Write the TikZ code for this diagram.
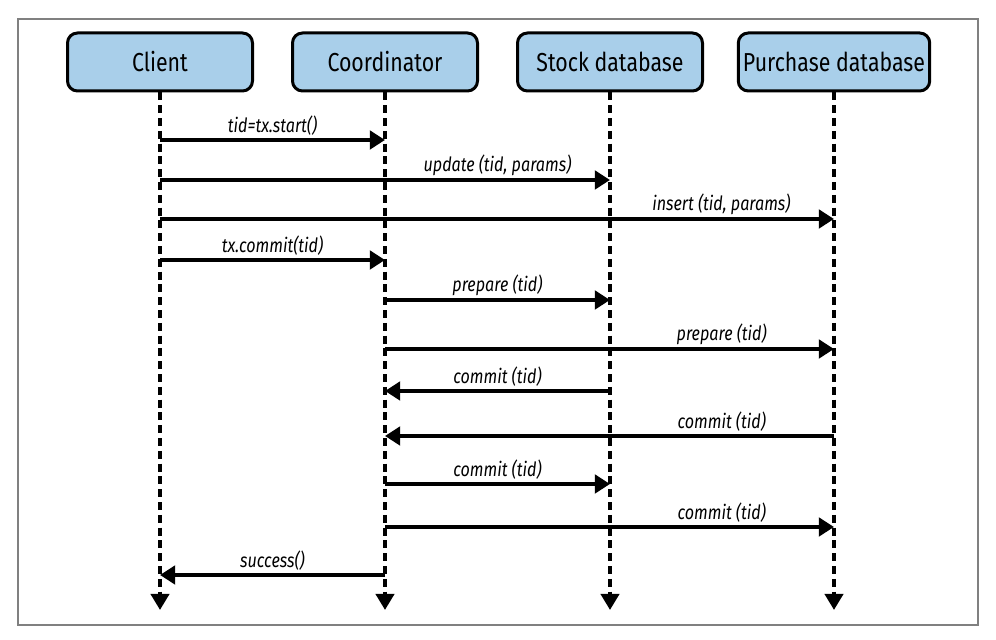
\documentclass[tikz,border=0pt]{standalone}
\usepackage{fontspec}
\setmainfont{Fira Sans}[FakeStretch=0.82]
\usetikzlibrary{arrows.meta}
\definecolor{partyblue}{HTML}{A9CFEA}

\begin{document}
\begin{tikzpicture}[
        party/.style={draw, line width=.075cm, rounded corners=.25cm, fill=partyblue,
            minimum width=4.625cm, minimum height=1.45cm, font=\fontsize{18.5}{20}\selectfont},
        lifeline/.style={line width=.095cm, dash pattern=on .2cm off .12cm,
            -{Triangle[length=.4cm, width=.45cm]}},
        msg/.style={line width=.1cm, -{Triangle[length=.38cm, width=.46cm]}},
        msglabel/.style={above=1.5pt, inner sep=0pt, font=\fontsize{14}{16}\selectfont\itshape}]
        \useasboundingbox (0, 0) rectangle (24.9, 16);
        \draw[gray, line width=.04cm](0.45, 0.375) rectangle (24.45, 15.525);

        \node[party] (client) at(4, 14.45){Client};
        \node[party] (coord) at(9.625, 14.45){Coordinator};
        \node[party] (stock) at(15.25, 14.45){Stock database};
        \node[party] (purchase) at(20.85, 14.45){Purchase database};

        \draw[lifeline](client.south) to (client |- 0, 0.75);
        \draw[lifeline](coord.south) to (coord |- 0, 0.75);
        \draw[lifeline](stock.south) to (stock |- 0, 0.75);
        \draw[lifeline](purchase.south) to (purchase |- 0, 0.75);

        \draw[msg](client |- 0, 12.5) to node[msglabel, pos=.5] (start) {tid=tx.start()} (coord |- 0, 12.5);
        \draw[msg](client |- 0, 11.5) to node[msglabel, pos=.75] (update) {update (tid, params)} (stock |- 0, 11.5);
        \draw[msg](client |- 0, 10.525) to node[msglabel, pos=.833] (insert) {insert (tid, params)} (purchase |- 0, 10.525);
        \draw[msg](client |- 0, 9.5) to node[msglabel, pos=.5] (txcommit) {tx.commit(tid)} (coord |- 0, 9.5);

        \draw[msg](coord |- 0, 8.5) to node[msglabel, pos=.5] (prepstock) {prepare (tid)} (stock |- 0, 8.5);
        \draw[msg](coord |- 0, 7.275) to node[msglabel, pos=.75] (preppurchase) {prepare (tid)} (purchase |- 0, 7.275);
        \draw[msg](stock |- 0, 6.225) to node[msglabel, pos=.5] (votestock) {commit (tid)} (coord |- 0, 6.225);
        \draw[msg](purchase |- 0, 5.1) to node[msglabel, pos=.25] (votepurchase) {commit (tid)} (coord |- 0, 5.1);
        \draw[msg](coord |- 0, 3.9) to node[msglabel, pos=.5] (commitstock) {commit (tid)} (stock |- 0, 3.9);
        \draw[msg](coord |- 0, 2.825) to node[msglabel, pos=.75] (commitpurchase) {commit (tid)} (purchase |- 0, 2.825);

        \draw[msg](coord |- 0, 1.625) to node[msglabel, pos=.5] (success) {success()} (client |- 0, 1.625);
    \end{tikzpicture}
\end{document}
